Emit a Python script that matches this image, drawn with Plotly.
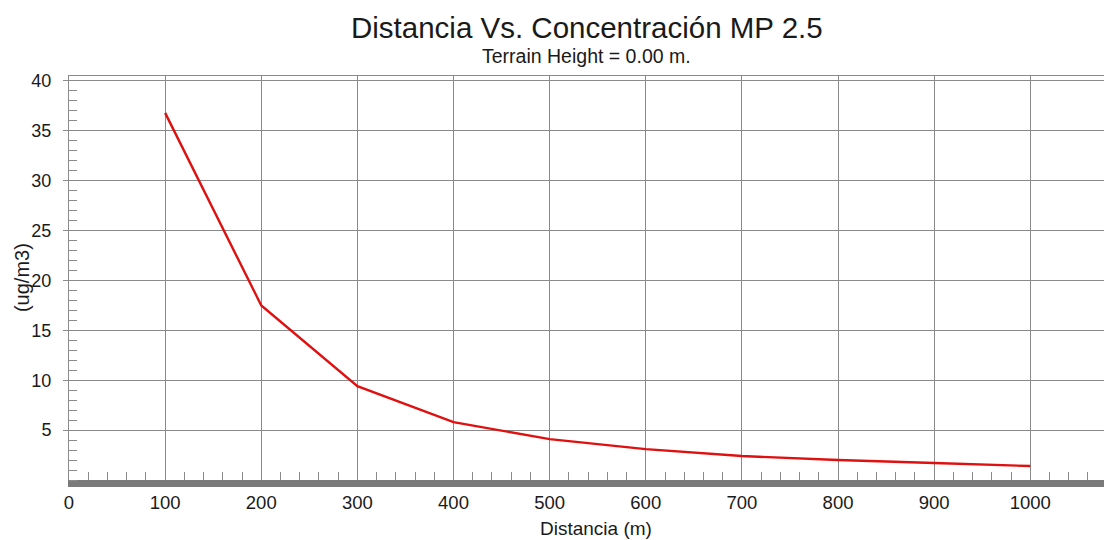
import plotly.graph_objects as go

distancia = [100, 200, 300, 400, 500, 600, 700, 800, 900, 1000]
concentracion = [36.8, 17.5, 9.4, 5.8, 4.1, 3.1, 2.4, 2.0, 1.7, 1.4]

x_ticks = [0, 100, 200, 300, 400, 500, 600, 700, 800, 900, 1000]
y_ticks = [5, 10, 15, 20, 25, 30, 35, 40]

title_text = "Distancia Vs. Concentración MP 2.5"
subtitle_text = "Terrain Height = 0.00 m."
x_title = "Distancia (m)"
y_title = "(ug/m3)"

FONT = "Liberation Sans, Arial, sans-serif"
GRID = "#8a8a8a"
TXT = "#1a1a1a"

fig = go.Figure()
fig.add_trace(go.Scatter(
    x=distancia, y=concentracion, mode="lines",
    line=dict(color="#e01010", width=2.4), showlegend=False,
    hoverinfo="x+y",
))
# invisible trace to enable the top border axis
fig.add_trace(go.Scatter(x=[0], y=[0], xaxis="x2", mode="markers",
                         marker=dict(opacity=0), showlegend=False, hoverinfo="skip"))

fig.update_layout(
    width=1104, height=532,
    margin=dict(l=61, r=0, t=68, b=60),
    paper_bgcolor="white", plot_bgcolor="white",
    font=dict(family=FONT, color=TXT),
    annotations=[
        dict(text=title_text, xref="paper", yref="paper", x=0.4966, y=1.119,
             xanchor="center", yanchor="middle", showarrow=False,
             font=dict(size=29.5, family=FONT, color=TXT)),
        dict(text=subtitle_text, xref="paper", yref="paper", x=0.4966, y=1.0495,
             xanchor="center", yanchor="middle", showarrow=False,
             font=dict(size=19.5, family=FONT, color=TXT)),
        dict(text=x_title, xref="paper", yref="paper", x=0.505, y=-0.119,
             xanchor="center", yanchor="middle", showarrow=False,
             font=dict(size=19, family=FONT, color=TXT)),
        dict(text=y_title, xref="paper", yref="paper", x=-0.045, y=0.5,
             xanchor="center", yanchor="middle", showarrow=False, textangle=-90,
             font=dict(size=20, family=FONT, color=TXT)),
    ],
    xaxis=dict(
        range=[0, 1085], tickvals=x_ticks, ticktext=[str(v) for v in x_ticks],
        showgrid=True, gridcolor=GRID, gridwidth=1,
        showline=True, linecolor="#7a7a7a", linewidth=7,
        ticks="inside", ticklen=8, tickcolor=GRID,
        minor=dict(ticks="inside", ticklen=8, tickcolor="#8a8a8a", dtick=20, tick0=0,
                   tickmode="linear", showgrid=False),
        tickfont=dict(size=18.5, family=FONT, color=TXT),
        zeroline=False, fixedrange=True, automargin=False,
    ),
    xaxis2=dict(
        overlaying="x", side="top", range=[0, 1085], showline=True,
        linecolor=GRID, linewidth=1, showticklabels=False, ticks="",
        showgrid=False, zeroline=False, automargin=False,
    ),
    yaxis=dict(
        range=[0, 40.5], tickvals=y_ticks, ticktext=[str(v) for v in y_ticks],
        showgrid=True, gridcolor=GRID, gridwidth=1,
        showline=True, linecolor=GRID, linewidth=1,
        ticks="outside", ticklen=5, tickcolor=GRID,
        minor=dict(ticks="inside", ticklen=8, tickcolor="#8a8a8a", dtick=1, tick0=0,
                   tickmode="linear", showgrid=False),
        tickfont=dict(size=18, family=FONT, color=TXT),
        ticklabelstandoff=8,
        zeroline=False, fixedrange=True, automargin=False,
    ),
)

fig.write_html("out.html")
